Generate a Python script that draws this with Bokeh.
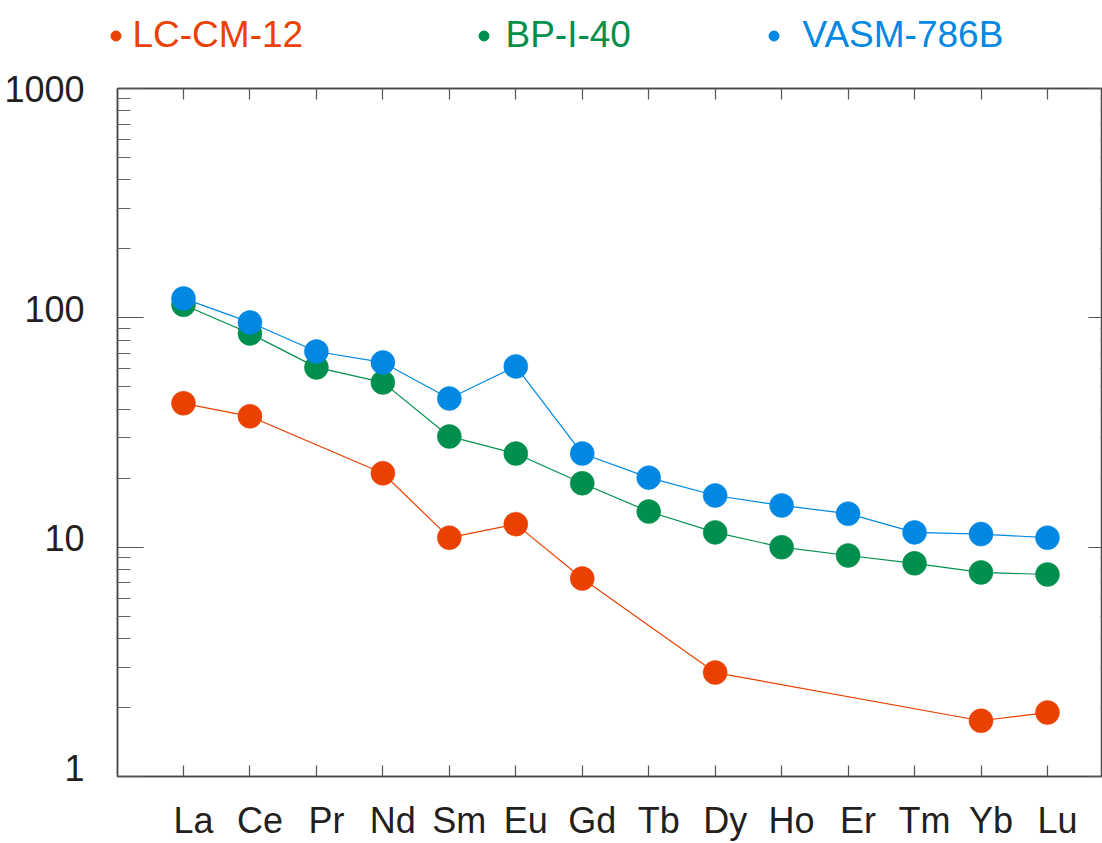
from bokeh.plotting import figure
from bokeh.layouts import column
from bokeh.models import (Range1d, FixedTicker, LinearAxis, LogAxis, LogScale, LinearScale,
                          ColumnDataSource, Legend, LegendItem, CustomJSTickFormatter)
from bokeh.embed import file_html
from bokeh.resources import INLINE

# ---------------- data ----------------
elements = ["La", "Ce", "Pr", "Nd", "Sm", "Eu", "Gd", "Tb", "Dy", "Ho", "Er", "Tm", "Yb", "Lu"]
lc_cm_12 = [42.4, 37.2, None, 21.0, 11.0, 12.6, 7.3, None, 2.84, None, None, None, 1.75, 1.90]
bp_i_40 = [114, 85.5, 60.8, 52.3, 30.4, 25.6, 19.0, 14.3, 11.6, 10.0, 9.2, 8.5, 7.76, 7.6]
vasm_786b = [121.5, 95.5, 71.3, 63.9, 44.5, 61.4, 25.6, 20.1, 16.8, 15.2, 14.0, 11.6, 11.4, 11.0]
y_tick_values = [1, 10, 100, 1000]
y_tick_labels = ["1", "10", "100", "1000"]
series_names = ["LC-CM-12", "BP-I-40", "VASM-786B"]
series_colors = ["#EB4100", "#008F4C", "#0088E2"]

FONT = "Liberation Sans"
TXT = "#231F20"
AX = "#4a4a4a"

x_idx = list(range(len(elements)))
y_minor = [m * 10 ** k for k in range(3) for m in range(2, 10)]

LEG_H = 60
X0, X1 = -0.993, 13.828
PX_PER_X = 985 / (X1 - X0)
PX_PER_DEC = 688 / 3.0

# ================= main chart =================
p = figure(width=1102, height=843 - LEG_H, y_axis_type="log",
           x_range=Range1d(X0, X1), y_range=Range1d(1, 1000),
           output_backend="svg", toolbar_location=None,
           min_border_left=117, min_border_right=0,
           min_border_top=88 - LEG_H, min_border_bottom=67)
p.frame_align = False
p.xgrid.visible = False
p.ygrid.visible = False
p.outline_line_color = AX
p.outline_line_width = 1.5
p.background_fill_color = "white"
p.border_fill_color = "white"

# label axes sit slightly shifted from the tick marks, as in the original
lab_dx = 10 / PX_PER_X
lab_dy = 9 / PX_PER_DEC
y_lab_top = 10 ** (3 - lab_dy)
p.extra_x_ranges = {"xlab": Range1d(X0 - lab_dx, X1 - lab_dx)}
p.extra_x_scales = {"xlab": LinearScale()}
p.extra_y_ranges = {"ylab": Range1d(10 ** (-lab_dy), y_lab_top)}
p.extra_y_scales = {"ylab": LogScale()}

xticker = FixedTicker(ticks=x_idx, minor_ticks=[])
yticker = FixedTicker(ticks=y_tick_values, minor_ticks=y_minor)


def style_axis(ax, tick_in, minor_in):
    ax.axis_line_color = AX
    ax.axis_line_width = 1.5
    ax.major_tick_in = tick_in
    ax.major_tick_out = 0
    ax.minor_tick_in = minor_in
    ax.minor_tick_out = 0
    ax.major_tick_line_color = "#555555"
    ax.major_tick_line_width = 1.2
    ax.minor_tick_line_color = "#666666"
    ax.minor_tick_line_width = 1.2
    ax.formatter = CustomJSTickFormatter(code="return ''")
    ax.major_label_text_font_size = "1px"
    ax.major_label_standoff = 0


def label_axis(ax, standoff):
    ax.axis_line_color = None
    ax.major_tick_line_color = None
    ax.minor_tick_line_color = None
    ax.major_tick_in = 0
    ax.major_tick_out = 0
    ax.minor_tick_in = 0
    ax.minor_tick_out = 0
    ax.major_label_text_font = FONT
    ax.major_label_text_color = TXT
    ax.major_label_text_font_size = "36px"
    ax.major_label_standoff = standoff


# tick-only frame axes
xa = p.below[0]
xa.ticker = xticker
style_axis(xa, 11, 0)
ya = p.left[0]
ya.ticker = yticker
style_axis(ya, 26, 13)
top_ax = LinearAxis(ticker=xticker)
style_axis(top_ax, 11, 0)
p.add_layout(top_ax, "above")
right_ax = LogAxis(ticker=yticker)
style_axis(right_ax, 14, 2)
p.add_layout(right_ax, "right")

# label axes
x_lab = LinearAxis(x_range_name="xlab", ticker=xticker)
label_axis(x_lab, 23)
x_lab.major_label_overrides = {i: e for i, e in zip(x_idx, elements)}
p.add_layout(x_lab, "below")

# the top label cannot leave the frame, so it stays on the frame edge
y_lab_ticks = [v for v in y_tick_values if v < y_lab_top] + [y_lab_top]
y_lab = LogAxis(y_range_name="ylab", ticker=FixedTicker(ticks=y_lab_ticks, minor_ticks=[]))
label_axis(y_lab, 33)
y_lab.major_label_overrides = {v: t for v, t in zip(y_lab_ticks, y_tick_labels)}
p.add_layout(y_lab, "left")

# ---------------- series ----------------
for vals, col in zip([lc_cm_12, bp_i_40, vasm_786b], series_colors):
    xs = [i for i, v in zip(x_idx, vals) if v is not None]
    ys = [v for v in vals if v is not None]
    src = ColumnDataSource(dict(x=xs, y=ys))
    p.line("x", "y", source=src, line_color=col, line_width=1.2)
    p.scatter("x", "y", source=src, marker="circle", size=24,
              fill_color=col, line_color=col, line_width=0.5)

# ================= legend strip (top) =================
lg_fig = figure(width=1102, height=LEG_H, x_range=Range1d(0, 1), y_range=Range1d(0, 1),
                output_backend="svg", toolbar_location=None,
                x_axis_location=None, y_axis_location=None,
                min_border=0, min_border_left=0, min_border_right=0,
                min_border_top=0, min_border_bottom=0)
lg_fig.frame_align = False
lg_fig.xgrid.visible = False
lg_fig.ygrid.visible = False
lg_fig.outline_line_color = None
lg_fig.border_fill_color = "white"
lg_fig.background_fill_color = "white"

leg_x = [102.5, 470.5, 760.5]
leg_standoff = [5, 10, 17]
for name, col, lx, sd in zip(series_names, series_colors, leg_x, leg_standoff):
    dummy = lg_fig.scatter(x=[float("nan")], y=[float("nan")], marker="circle", size=24,
                           fill_color=col, line_color=col)
    lg = Legend(items=[LegendItem(label=name, renderers=[dummy])], location=(lx, 4),
                orientation="horizontal", glyph_width=25, glyph_height=25,
                label_standoff=sd, padding=0, margin=0, spacing=0,
                background_fill_alpha=0, border_line_color=None,
                label_text_font=FONT, label_text_font_size="37px", label_text_color=col)
    lg_fig.add_layout(lg)

layout = column(lg_fig, p, spacing=0)
open("out.html", "w").write(file_html(layout, INLINE))
